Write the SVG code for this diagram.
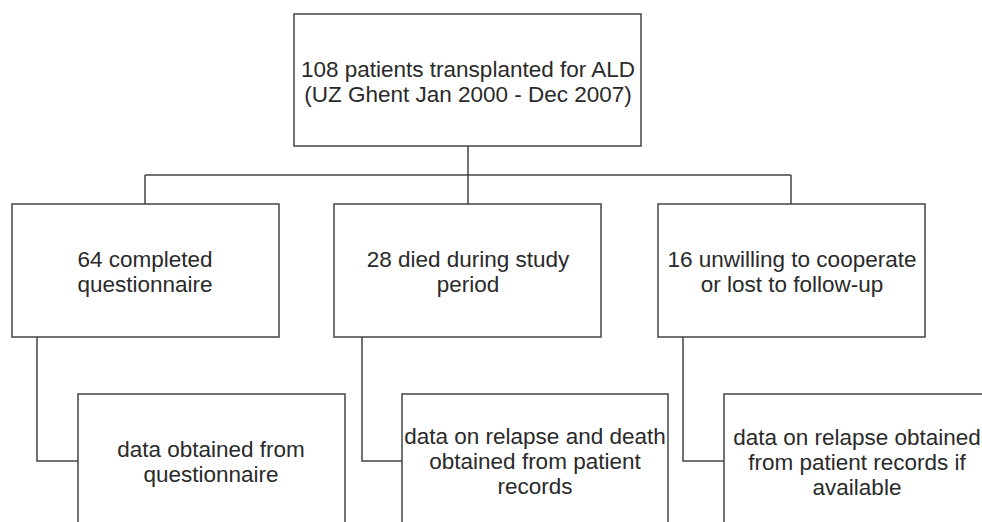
<svg xmlns="http://www.w3.org/2000/svg" width="982" height="522" viewBox="0 0 982 522">
<style>
.box{fill:#fff;stroke:#444;stroke-width:1.5}
.conn{fill:none;stroke:#444;stroke-width:1.5}
text{font-family:"Liberation Sans",Arial,sans-serif;font-size:22.5px;fill:#2a2a2a;text-anchor:middle}
</style>
<rect width="982" height="522" fill="#fff"/>
<g id="connectors">
<path class="conn" d="M468,146 V175 M145,175 H791 M145,175 V204 M468,175 V204 M791,175 V204"/>
<path class="conn" d="M37,337 V461 H78"/>
<path class="conn" d="M362,337 V461 H402"/>
<path class="conn" d="M683,337 V461 H724"/>
</g>
<g id="root">
<rect class="box" x="294" y="14" width="347" height="132"/>
<text x="468" y="77">108 patients transplanted for ALD</text>
<text x="468" y="102">(UZ Ghent Jan 2000 - Dec 2007)</text>
</g>
<g id="completed">
<rect class="box" x="12" y="204" width="267" height="133"/>
<text x="145" y="267">64 completed</text>
<text x="145" y="292">questionnaire</text>
</g>
<g id="died">
<rect class="box" x="334" y="204" width="267" height="133"/>
<text x="468" y="267">28 died during study</text>
<text x="468" y="292">period</text>
</g>
<g id="unwilling">
<rect class="box" x="658" y="204" width="267" height="133"/>
<text x="792" y="267">16 unwilling to cooperate</text>
<text x="792" y="292">or lost to follow-up</text>
</g>
<g id="data-questionnaire">
<rect class="box" x="78" y="394" width="267" height="140"/>
<text x="211" y="457">data obtained from</text>
<text x="211" y="482">questionnaire</text>
</g>
<g id="data-relapse-death">
<rect class="box" x="402" y="394" width="266" height="140"/>
<text x="535" y="444">data on relapse and death</text>
<text x="535" y="469">obtained from patient</text>
<text x="535" y="494">records</text>
</g>
<g id="data-relapse">
<rect class="box" x="724" y="394" width="267" height="140"/>
<text x="857" y="445">data on relapse obtained</text>
<text x="857" y="470">from patient records if</text>
<text x="857" y="495">available</text>
</g>
</svg>
